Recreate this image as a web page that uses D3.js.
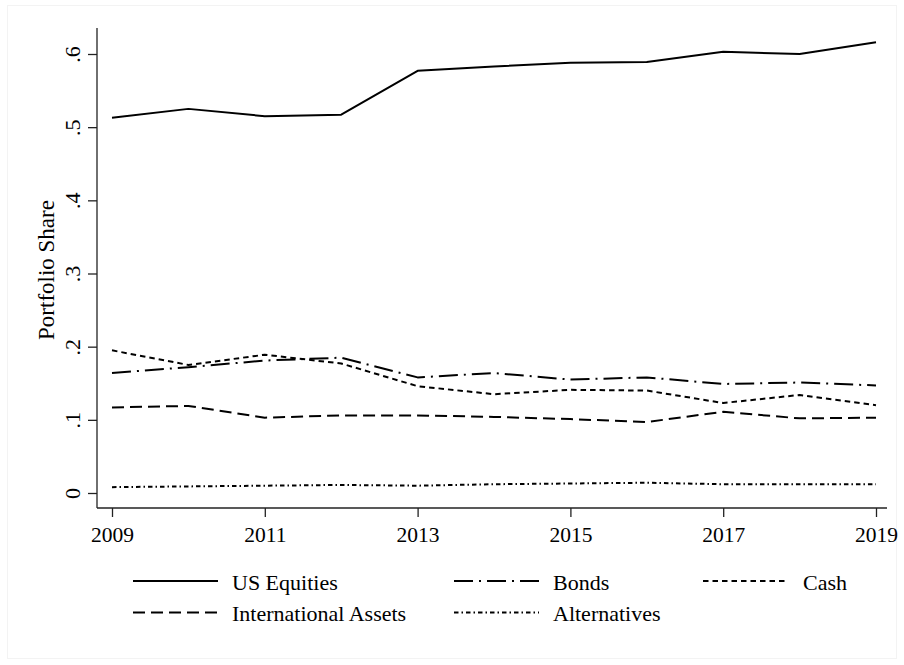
<!DOCTYPE html>
<html>
<head>
<meta charset="utf-8">
<script src="https://cdn.jsdelivr.net/npm/d3@7"></script>
<style>
  html, body { margin: 0; padding: 0; background: #fff; }
  svg { display: block; }
  text { font-family: "Liberation Serif", "Times New Roman", serif; fill: #000; }
</style>
</head>
<body>
<svg id="chart" width="904" height="665"></svg>
<script>
const years = [2009, 2010, 2011, 2012, 2013, 2014, 2015, 2016, 2017, 2018, 2019];
const usEquities   = [0.513, 0.525, 0.515, 0.517, 0.577, 0.583, 0.588, 0.589, 0.603, 0.600, 0.616];
const bonds        = [0.164, 0.172, 0.181, 0.185, 0.158, 0.164, 0.155, 0.158, 0.149, 0.151, 0.147];
const cash         = [0.195, 0.175, 0.189, 0.177, 0.146, 0.135, 0.141, 0.140, 0.123, 0.134, 0.120];
const international= [0.117, 0.119, 0.103, 0.106, 0.106, 0.104, 0.101, 0.097, 0.111, 0.102, 0.103];
const alternatives = [0.008, 0.009, 0.010, 0.011, 0.010, 0.012, 0.013, 0.014, 0.012, 0.012, 0.012];
const xTicks = [2009, 2011, 2013, 2015, 2017, 2019];
const yTicks = [0, 0.1, 0.2, 0.3, 0.4, 0.5, 0.6];
const yTickLabels = ["0", ".1", ".2", ".3", ".4", ".5", ".6"];

const series = [
  {name: "US Equities", values: usEquities, dash: null},
  {name: "Bonds", values: bonds, dash: "19,6,2,6"},
  {name: "Cash", values: cash, dash: "5.5,4"},
  {name: "International Assets", values: international, dash: "12,6"},
  {name: "Alternatives", values: alternatives, dash: "4.5,3,1.5,3"}
];

const svg = d3.select("#chart");

// faint outer frame
svg.append("rect").attr("x", 7.5).attr("y", 5.5).attr("width", 889).attr("height", 653)
  .attr("fill", "none").attr("stroke", "#f3f3f3").attr("stroke-width", 1);

const x = d3.scaleLinear().domain([2009, 2019]).range([112, 876]);
const y = d3.scaleLinear().domain([0, 0.6]).range([493, 54]);

const axisLeftX = 97, axisBottomY = 508;

// Y axis
const yAxis = d3.axisLeft(y).tickValues(yTicks).tickSize(9).tickPadding(8)
  .tickFormat((d, i) => yTickLabels[i]);
const gy = svg.append("g").attr("transform", `translate(${axisLeftX},0)`).call(yAxis);
gy.select(".domain").remove();
gy.append("line").attr("x1", 0).attr("x2", 0).attr("y1", 28).attr("y2", axisBottomY)
  .attr("stroke", "#222").attr("stroke-width", 1.3);
gy.selectAll(".tick line").attr("stroke", "#222").attr("stroke-width", 1.3);
gy.selectAll(".tick text")
  .attr("x", null).attr("dy", null)
  .attr("transform", "translate(-17,0) rotate(-90)")
  .attr("text-anchor", "middle")
  .attr("font-size", 22)
  .style("font-family", "'Liberation Serif', 'Times New Roman', serif");

// X axis
const xAxis = d3.axisBottom(x).tickValues(xTicks).tickSize(9).tickPadding(8).tickFormat(d3.format("d"));
const gx = svg.append("g").attr("transform", `translate(0,${axisBottomY})`).call(xAxis);
gx.select(".domain").remove();
gx.append("line").attr("x1", axisLeftX).attr("x2", 887).attr("y1", 0).attr("y2", 0)
  .attr("stroke", "#222").attr("stroke-width", 1.3);
gx.selectAll(".tick line").attr("stroke", "#222").attr("stroke-width", 1.3);
gx.selectAll(".tick text")
  .attr("y", null).attr("dy", null)
  .attr("transform", "translate(0,34)")
  .attr("font-size", 21.5)
  .style("font-family", "'Liberation Serif', 'Times New Roman', serif");

// Y title
svg.append("text")
  .attr("transform", "translate(54,270) rotate(-90)")
  .attr("text-anchor", "middle")
  .attr("font-size", 23)
  .text("Portfolio Share");

// Lines
const line = d3.line().x((d, i) => x(years[i])).y(d => y(d));
series.forEach(s => {
  svg.append("path")
    .datum(s.values)
    .attr("d", line)
    .attr("fill", "none")
    .attr("stroke", "#000")
    .attr("stroke-width", 2)
    .attr("stroke-linejoin", "round")
    .attr("stroke-dasharray", s.dash);
});

// Legend
const legendPos = [
  {lx: 133, tx: 232, row: 0},
  {lx: 454, tx: 553, row: 0},
  {lx: 703, tx: 803, row: 0},
  {lx: 133, tx: 232, row: 1},
  {lx: 454, tx: 553, row: 1}
];
series.forEach((s, i) => {
  const p = legendPos[i];
  const ly = 581 + p.row * 31.5;
  svg.append("line")
    .attr("x1", p.lx).attr("x2", p.lx + 85)
    .attr("y1", ly).attr("y2", ly)
    .attr("stroke", "#000").attr("stroke-width", 2)
    .attr("stroke-dasharray", s.dash);
  svg.append("text")
    .attr("x", p.tx).attr("y", ly + 8.5)
    .attr("font-size", 22)
    .text(s.name);
});
</script>
</body>
</html>
